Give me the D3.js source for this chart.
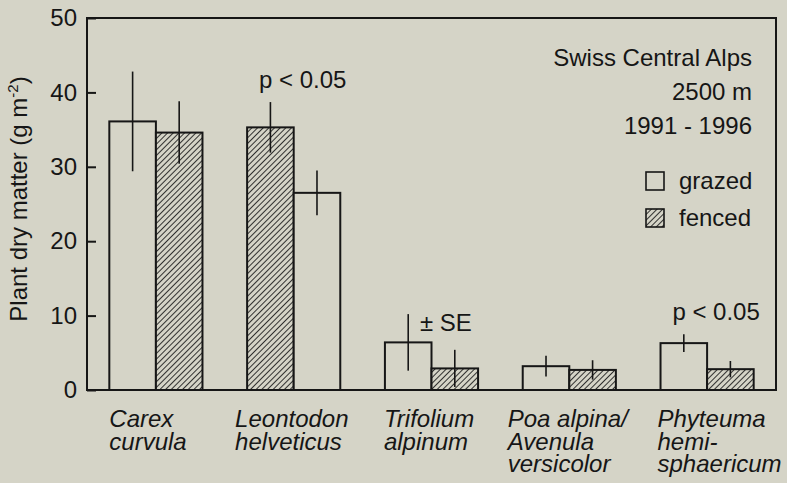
<!DOCTYPE html>
<html><head><meta charset="utf-8">
<script src="https://cdn.jsdelivr.net/npm/d3@7"></script>
<style>
html,body{margin:0;padding:0;background:#d5d4c7;}
svg{display:block;font-family:"Liberation Sans",Arial,Helvetica,sans-serif;}
</style></head>
<body><svg id="c" width="787" height="483"></svg>
<script>
// ---- data ----
const categories = ["Carex curvula","Leontodon helveticus","Trifolium alpinum","Poa alpina/Avenula versicolor","Phyteuma hemisphaericum"];
const categoryLines = [["Carex","curvula"],["Leontodon","helveticus"],["Trifolium","alpinum"],["Poa alpina/","Avenula","versicolor"],["Phyteuma","hemi-","sphaericum"]];
const grazedMean = [36.1, 26.5, 6.4, 3.2, 6.3];
const grazedSE   = [6.7, 3.0, 3.8, 1.4, 1.2];
const fencedMean = [34.6, 35.3, 2.9, 2.7, 2.8];
const fencedSE   = [4.2, 3.4, 2.5, 1.3, 1.1];
const barOrder = [["grazed","fenced"],["fenced","grazed"],["grazed","fenced"],["grazed","fenced"],["grazed","fenced"]];
const yTicks = [0,10,20,30,40,50];
const significance = [null,"p < 0.05",null,null,"p < 0.05"];
const headerLines = ["Swiss Central Alps","2500 m","1991 - 1996"];
const legendItems = ["grazed","fenced"];

// ---- layout ----
const L = 87, R = 776, T = 18, B = 390;
const labelDx = [0,-12,-1,-15,-3];
const ink = "#161616";
const bg = "#d5d4c7";
const svg = d3.select("#c");

const defs = svg.append("defs");
const pat = defs.append("pattern").attr("id","hatch").attr("patternUnits","userSpaceOnUse")
  .attr("width",4).attr("height",4).attr("patternTransform","rotate(45)");
pat.append("rect").attr("width",4).attr("height",4).attr("fill",bg);
pat.append("line").attr("x1",0).attr("y1",0).attr("x2",0).attr("y2",4)
  .attr("stroke","#1e1e1e").attr("stroke-width",1.8);

const x = d3.scaleBand().domain(categories).range([L, R]).paddingInner(0.324).paddingOuter(0.162);
const y = d3.scaleLinear().domain([0,50]).range([B, T]);

const rows = categories.map((c,i)=>({c,i,vals:{grazed:{m:grazedMean[i],se:grazedSE[i]},fenced:{m:fencedMean[i],se:fencedSE[i]}}}));

// bars
rows.forEach(r=>{
  const xi = d3.scaleBand().domain(barOrder[r.i]).range([x(r.c), x(r.c)+x.bandwidth()]);
  barOrder[r.i].forEach(s=>{
    const v = r.vals[s];
    svg.append("rect").attr("x",xi(s)).attr("y",y(v.m)).attr("width",xi.bandwidth()).attr("height",y(0)-y(v.m))
      .attr("fill", s==="fenced" ? "url(#hatch)" : bg).attr("stroke",ink).attr("stroke-width",2);
  });
  barOrder[r.i].forEach(s=>{
    const v = r.vals[s];
    const cx = xi(s)+xi.bandwidth()/2;
    svg.append("line").attr("x1",cx).attr("x2",cx).attr("y1",y(v.m+v.se)).attr("y2",y(Math.max(0,v.m-v.se)))
      .attr("stroke",ink).attr("stroke-width",1.6);
  });
});

// frame
svg.append("path").attr("d",`M${L},${T}H${R}V${B}H${L}Z`).attr("fill","none").attr("stroke",ink).attr("stroke-width",2);

// y axis
const yAxis = svg.append("g").attr("transform",`translate(${L},0)`)
  .call(d3.axisLeft(y).tickValues(yTicks).tickSizeInner(-9).tickSizeOuter(0).tickPadding(10));
yAxis.select(".domain").remove();
yAxis.selectAll(".tick line").attr("stroke",ink).attr("stroke-width",2);
yAxis.selectAll(".tick text").attr("font-size",24).attr("fill",ink).attr("font-family","Liberation Sans, Arial, sans-serif");

// y label
const yl = svg.append("text").attr("transform","translate(27,199) rotate(-90)").attr("text-anchor","middle")
  .attr("font-size",24).attr("fill",ink);
yl.append("tspan").text("Plant dry matter (g m");
yl.append("tspan").attr("font-size",15).attr("dy",-9).text("-2");
yl.append("tspan").attr("dy",9).text(")");

// category labels
categories.forEach((c,i)=>{
  const t = svg.append("text").attr("font-size",24).attr("font-style","italic").attr("fill",ink);
  categoryLines[i].forEach((ln,j)=>{
    t.append("tspan").attr("x",x(c)+labelDx[i]).attr("y",427+j*22.5).text(ln);
  });
});

// significance labels
significance.forEach((s,i)=>{
  if(!s) return;
  const top = Math.max(grazedMean[i]+grazedSE[i], fencedMean[i]+fencedSE[i]);
  svg.append("text").attr("x",x(categories[i])+x.bandwidth()/2+9).attr("y",y(top)-14)
    .attr("text-anchor","middle").attr("font-size",24).attr("fill",ink).text(s);
});

// ± SE note
svg.append("text").attr("x",x(categories[2])+35).attr("y",331).attr("font-size",24).attr("fill",ink).text("± SE");

// header
headerLines.forEach((h,i)=>{
  svg.append("text").attr("x",752).attr("y",66+i*34).attr("text-anchor","end").attr("font-size",24).attr("fill",ink).text(h);
});

// legend
legendItems.forEach((s,i)=>{
  const yy = 172+i*37;
  svg.append("rect").attr("x",646).attr("y",yy).attr("width",18).attr("height",18)
    .attr("fill", s==="fenced" ? "url(#hatch)" : bg).attr("stroke",ink).attr("stroke-width",1.6);
  svg.append("text").attr("x",679).attr("y",yy+17).attr("font-size",24).attr("fill",ink).text(s);
});
</script></body></html>
